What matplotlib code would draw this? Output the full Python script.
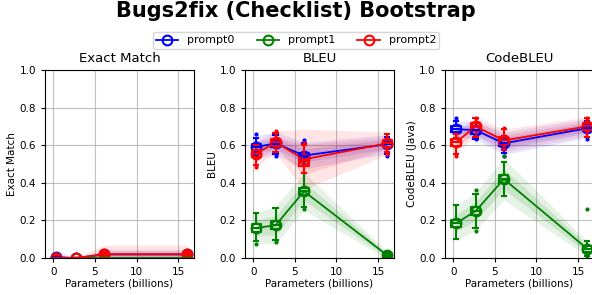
import matplotlib
matplotlib.use("Agg")
import matplotlib.pyplot as plt

# model sizes (billions of parameters)
params = [0.35, 2.7, 6.1, 16.1]
prompts = ["prompt0", "prompt1", "prompt2"]
colors = ["blue", "green", "red"]
metrics = ["Exact Match", "BLEU", "CodeBLEU"]
ylabels = ["Exact Match", "BLEU", "CodeBLEU (Java)"]

# mean per prompt (rows) per model size (cols)
em_mean = [[0.005, 0.0, 0.02, 0.02], [0.0, 0.0, 0.0, 0.0], [0.003, 0.0, 0.02, 0.02]]
bleu_mean = [[0.59, 0.61, 0.545, 0.605], [0.16, 0.175, 0.355, 0.015], [0.555, 0.615, 0.525, 0.61]]
cb_mean = [[0.685, 0.68, 0.61, 0.69], [0.185, 0.25, 0.42, 0.05], [0.615, 0.70, 0.625, 0.70]]

# spread used for the shaded bands
em_sd = [[0.02, 0.0, 0.01, 0.01], [0.0, 0.0, 0.0, 0.0], [0.005, 0.002, 0.025, 0.025]]
bleu_sd = [[0.03, 0.03, 0.035, 0.025], [0.04, 0.05, 0.05, 0.01], [0.03, 0.03, 0.08, 0.03]]
cb_sd = [[0.02, 0.025, 0.03, 0.025], [0.045, 0.05, 0.055, 0.02], [0.03, 0.025, 0.03, 0.025]]

# box stats: q1, median, q3, whisker low, whisker high
em_q1 = [[0.0, 0.0, 0.015, 0.015], [0.0, 0.0, 0.0, 0.0], [0.0, 0.0, 0.015, 0.015]]
em_med = [[0.005, 0.0, 0.02, 0.02], [0.0, 0.0, 0.0, 0.0], [0.0, 0.0, 0.02, 0.02]]
em_q3 = [[0.01, 0.0, 0.025, 0.025], [0.0, 0.0, 0.0, 0.0], [0.005, 0.0, 0.025, 0.025]]
em_lo = [[0.0, 0.0, 0.01, 0.01], [0.0, 0.0, 0.0, 0.0], [0.0, 0.0, 0.01, 0.01]]
em_hi = [[0.015, 0.0, 0.03, 0.03], [0.0, 0.0, 0.0, 0.0], [0.01, 0.0, 0.03, 0.03]]
em_fl = [[[], [], [], []], [[], [], [], []], [[], [], [], []]]

bleu_q1 = [[0.575, 0.59, 0.53, 0.59], [0.14, 0.155, 0.335, 0.005], [0.535, 0.595, 0.49, 0.59]]
bleu_med = [[0.59, 0.605, 0.545, 0.605], [0.16, 0.175, 0.355, 0.015], [0.555, 0.615, 0.515, 0.61]]
bleu_q3 = [[0.605, 0.62, 0.56, 0.62], [0.18, 0.195, 0.375, 0.025], [0.575, 0.635, 0.54, 0.63]]
bleu_lo = [[0.545, 0.555, 0.49, 0.555], [0.09, 0.095, 0.27, 0.0], [0.495, 0.565, 0.45, 0.565]]
bleu_hi = [[0.64, 0.655, 0.61, 0.645], [0.24, 0.265, 0.45, 0.03], [0.60, 0.665, 0.60, 0.66]]
bleu_fl = [[[0.66, 0.53], [0.545], [0.63], [0.545]],
           [[0.075], [0.085], [0.26], []],
           [[0.485], [0.675], [0.61], [0.555]]]

cb_q1 = [[0.67, 0.66, 0.595, 0.675], [0.165, 0.23, 0.40, 0.035], [0.595, 0.68, 0.605, 0.68]]
cb_med = [[0.685, 0.68, 0.61, 0.69], [0.185, 0.25, 0.42, 0.05], [0.615, 0.70, 0.625, 0.70]]
cb_q3 = [[0.70, 0.70, 0.625, 0.705], [0.205, 0.27, 0.44, 0.065], [0.635, 0.72, 0.645, 0.72]]
cb_lo = [[0.64, 0.635, 0.56, 0.645], [0.10, 0.16, 0.33, 0.01], [0.555, 0.645, 0.575, 0.645]]
cb_hi = [[0.73, 0.72, 0.65, 0.73], [0.28, 0.34, 0.51, 0.09], [0.66, 0.745, 0.685, 0.745]]
cb_fl = [[[0.745], [0.635], [0.545], [0.635]],
         [[], [0.36, 0.145], [0.54], [0.26, 0.0]],
         [[0.545], [0.745], [0.69], [0.745]]]

all_mean = [em_mean, bleu_mean, cb_mean]
all_sd = [em_sd, bleu_sd, cb_sd]
all_q1 = [em_q1, bleu_q1, cb_q1]
all_med = [em_med, bleu_med, cb_med]
all_q3 = [em_q3, bleu_q3, cb_q3]
all_lo = [em_lo, bleu_lo, cb_lo]
all_hi = [em_hi, bleu_hi, cb_hi]
all_fl = [em_fl, bleu_fl, cb_fl]

fig, axes = plt.subplots(1, 3, figsize=(5.92, 2.95), dpi=100)
fig.subplots_adjust(left=0.076, right=1.003, bottom=0.125, top=0.763, wspace=0.342)

handles = []
for m, ax in enumerate(axes):
    for p in range(3):
        c = colors[p]
        mean = all_mean[m][p]
        sd = all_sd[m][p]
        lo1 = [a - b for a, b in zip(mean, sd)]
        hi1 = [a + b for a, b in zip(mean, sd)]
        lo2 = [a - 2 * b for a, b in zip(mean, sd)]
        hi2 = [a + 2 * b for a, b in zip(mean, sd)]
        ax.fill_between(params, lo2, hi2, color=c, alpha=0.1, linewidth=0)
        ax.fill_between(params, lo1, hi1, color=c, alpha=0.12, linewidth=0)

        stats = []
        for i in range(4):
            stats.append({
                "q1": all_q1[m][p][i], "med": all_med[m][p][i], "q3": all_q3[m][p][i],
                "whislo": all_lo[m][p][i], "whishi": all_hi[m][p][i],
                "fliers": all_fl[m][p][i],
            })
        ax.bxp(stats, positions=params, widths=1.1, manage_ticks=False,
               boxprops=dict(color=c, linewidth=1.5),
               medianprops=dict(color=c, linewidth=1.5),
               whiskerprops=dict(color=c, linewidth=1.5),
               capprops=dict(color=c, linewidth=1.5),
               flierprops=dict(marker="o", markersize=2, markerfacecolor=c,
                               markeredgecolor=c, linestyle="none"))

        h, = ax.plot(params, mean, color=c, marker="o", markersize=7,
                     markerfacecolor="none", markeredgewidth=1.5, linewidth=1.3,
                     label=prompts[p])
        if m == 0:
            handles.append(h)

    ax.set_xlim(-1.0, 16.9)
    ax.set_ylim(0, 1)
    ax.set_xticks([0, 5, 10, 15])
    ax.set_yticks([0.0, 0.2, 0.4, 0.6, 0.8, 1.0])
    ax.grid(True, color="#b0b0b0", linewidth=0.8, alpha=0.8)
    ax.set_axisbelow(True)
    ax.tick_params(labelsize=7.5, length=3)
    ax.set_title(metrics[m], fontsize=9.5)
    ax.set_xlabel("Parameters (billions)", fontsize=7.5, labelpad=1)
    ax.set_ylabel(ylabels[m], fontsize=7.5, labelpad=2)

fig.suptitle("Bugs2fix (Checklist) Bootstrap", fontsize=15, fontweight="bold", y=0.995)
fig.legend(handles=handles, loc="upper center", ncol=3, fontsize=8,
           bbox_to_anchor=(0.5, 0.91), handlelength=2.0, columnspacing=2.0,
           handletextpad=0.8, borderpad=0.3)

fig.savefig("out.png", dpi=100)
